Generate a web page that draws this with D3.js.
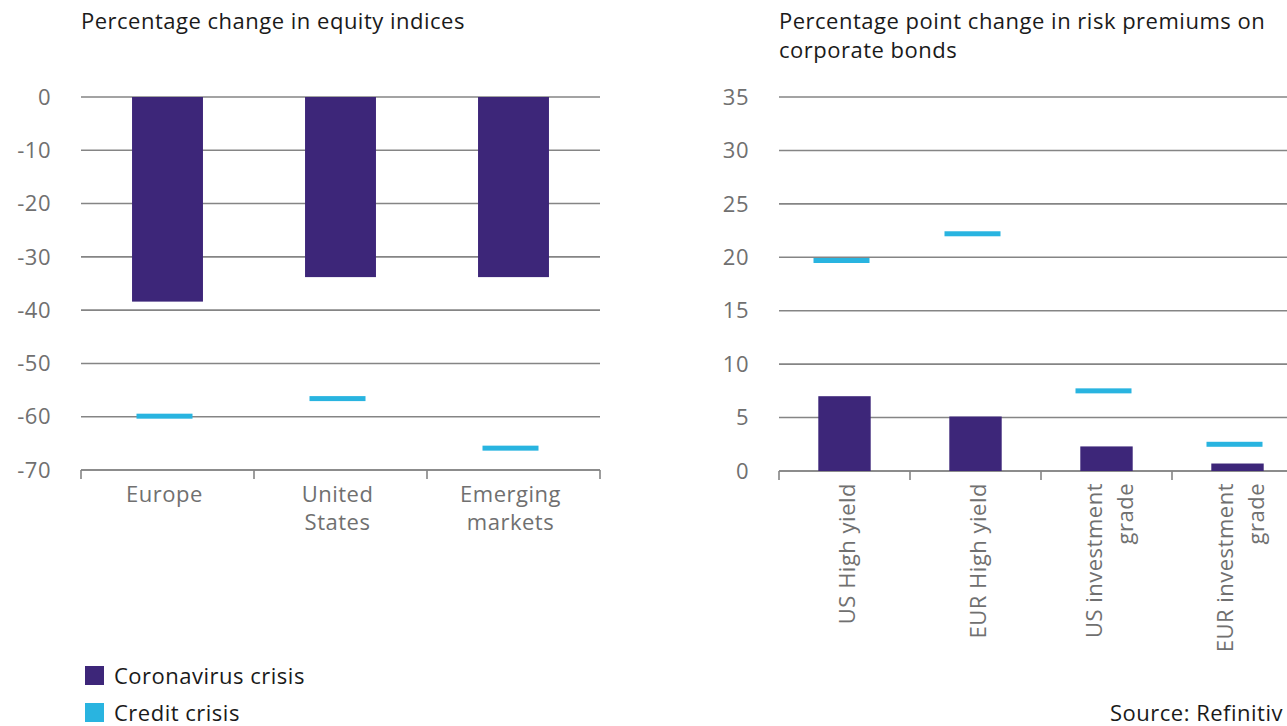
<!DOCTYPE html>
<html>
<head>
<meta charset="utf-8">
<script src="https://cdn.jsdelivr.net/npm/d3@7"></script>
<style>
  body { margin: 0; background: #fff; }
  svg text { font-family: "Open Sans", sans-serif; font-size: 22px; letter-spacing: 0.5px; }
</style>
</head>
<body>
<script>
// equity indices (left panel)
var equityCategories = [["Europe"], ["United", "States"], ["Emerging", "markets"]];
var equityCorona = [-38.4, -33.8, -33.8];
var equityCredit = [-59.9, -56.6, -65.9];
var equityTicks = [0, -10, -20, -30, -40, -50, -60, -70];

// corporate bond risk premiums (right panel)
var bondCategories = [["US High yield"], ["EUR High yield"], ["US investment", "grade"], ["EUR investment", "grade"]];
var bondCorona = [7.0, 5.1, 2.3, 0.7];
var bondCredit = [19.7, 22.2, 7.5, 2.5];
var bondTicks = [0, 5, 10, 15, 20, 25, 30, 35];

var purple = "#3d2679",
    blue = "#29b4e0",
    grid = "#858585",
    labelGrey = "#707070";

var svg = d3.select("body").append("svg")
    .attr("width", 1287)
    .attr("height", 726);

function panel(opts) {
  var g = svg.append("g");

  var x = d3.scaleBand()
      .domain(d3.range(opts.categories.length))
      .range(opts.xRange)
      .paddingInner(0)
      .paddingOuter(0);

  var y = d3.scaleLinear()
      .domain(opts.yDomain)
      .range(opts.yRange);

  // title
  var title = g.append("text")
      .attr("x", opts.xRange[0])
      .attr("y", 29)
      .style("fill", "#1a1a1a");
  opts.title.forEach(function(t, i) {
    title.append("tspan")
        .attr("x", opts.xRange[0])
        .attr("dy", i == 0 ? 0 : 29)
        .text(t);
  });

  // gridlines + y labels
  g.selectAll("line.grid")
      .data(opts.ticks)
    .enter().append("line")
      .attr("class", "grid")
      .attr("x1", opts.xRange[0])
      .attr("x2", opts.gridEnd)
      .attr("y1", function(d) { return y(d); })
      .attr("y2", function(d) { return y(d); })
      .style("stroke", grid)
      .style("stroke-width", 1.6);

  g.selectAll("text.ylab")
      .data(opts.ticks)
    .enter().append("text")
      .attr("class", "ylab")
      .attr("x", opts.xRange[0] - 30)
      .attr("y", function(d) { return y(d); })
      .attr("dy", "0.35em")
      .attr("text-anchor", "end")
      .style("fill", labelGrey)
      .text(function(d) { return d; });

  // category axis at the bottom value
  var axisY = y(opts.yDomain[0]);
  var axis = d3.axisBottom(x).tickSize(0).tickFormat("");
  var axisG = g.append("g")
      .attr("transform", "translate(0," + axisY + ")")
      .call(axis);
  axisG.select(".domain").remove();
  axisG.append("line")
      .attr("x1", opts.xRange[0]).attr("x2", opts.gridEnd)
      .style("stroke", grid).style("stroke-width", 1.6);
  var bounds = d3.range(opts.categories.length + 1).map(function(i) {
    return opts.xRange[0] + i * x.step();
  });
  axisG.selectAll("line.tick-mark")
      .data(bounds)
    .enter().append("line")
      .attr("class", "tick-mark")
      .attr("x1", function(d) { return d; })
      .attr("x2", function(d) { return d; })
      .attr("y1", 0).attr("y2", 9)
      .style("stroke", grid).style("stroke-width", 1.6);

  // bars (coronavirus crisis)
  var bw = x.bandwidth() * opts.barFrac;
  g.selectAll("rect.bar")
      .data(opts.corona)
    .enter().append("rect")
      .attr("class", "bar")
      .attr("x", function(d, i) { return x(i) + x.bandwidth() / 2 - bw / 2; })
      .attr("y", function(d) { return Math.min(y(d), y(0)); })
      .attr("width", bw)
      .attr("height", function(d) { return Math.abs(y(d) - y(0)); })
      .style("fill", purple);

  // markers (credit crisis)
  g.selectAll("rect.marker")
      .data(opts.credit)
    .enter().append("rect")
      .attr("class", "marker")
      .attr("x", function(d, i) { return x(i) + x.bandwidth() / 2 - 31; })
      .attr("y", function(d) { return y(d) - 2.5; })
      .attr("width", 56)
      .attr("height", 5)
      .style("fill", blue);

  // category labels
  if (opts.rotate) {
    opts.categories.forEach(function(lines, i) {
      var cx = x(i) + x.bandwidth() / 2 + 3;
      var t = g.append("text")
          .attr("transform", "translate(" + cx + "," + (axisY + 12) + ") rotate(-90)")
          .attr("text-anchor", "end")
          .style("fill", labelGrey);
      lines.forEach(function(l, j) {
        t.append("tspan")
            .attr("x", 0)
            .attr("y", (j - (lines.length - 1) / 2) * 31)
            .attr("dy", "0.35em")
            .text(l);
      });
    });
  } else {
    opts.categories.forEach(function(lines, i) {
      var t = g.append("text")
          .attr("x", x(i) + x.bandwidth() / 2)
          .attr("y", axisY + 32)
          .attr("text-anchor", "middle")
          .style("fill", labelGrey);
      lines.forEach(function(l, j) {
        t.append("tspan")
            .attr("x", x(i) + x.bandwidth() / 2 - 3)
            .attr("dy", j == 0 ? 0 : 28)
            .text(l);
      });
    });
  }
}

panel({
  title: ["Percentage change in equity indices"],
  categories: equityCategories,
  corona: equityCorona,
  credit: equityCredit,
  ticks: equityTicks,
  xRange: [81, 600],
  gridEnd: 600,
  yDomain: [-70, 0],
  yRange: [470, 97],
  barFrac: 0.41,
  rotate: false
});

panel({
  title: ["Percentage point change in risk premiums on", "corporate bonds"],
  categories: bondCategories,
  corona: bondCorona,
  credit: bondCredit,
  ticks: bondTicks,
  xRange: [779, 1303],
  gridEnd: 1303,
  yDomain: [0, 35],
  yRange: [471, 97],
  barFrac: 0.40,
  rotate: true
});

// legend
var legend = [["Coronavirus crisis", purple], ["Credit crisis", blue]];
var lg = svg.selectAll("g.legend")
    .data(legend)
  .enter().append("g")
    .attr("class", "legend")
    .attr("transform", function(d, i) { return "translate(85," + (666 + i * 37) + ")"; });
lg.append("rect")
    .attr("width", 19).attr("height", 19)
    .style("fill", function(d) { return d[1]; });
lg.append("text")
    .attr("x", 29).attr("y", 10)
    .attr("dy", "0.35em")
    .style("fill", "#1a1a1a")
    .text(function(d) { return d[0]; });

svg.append("text")
    .attr("x", 1283).attr("y", 721)
    .attr("text-anchor", "end")
    .style("fill", "#1a1a1a")
    .text("Source: Refinitiv");
</script>
</body>
</html>
